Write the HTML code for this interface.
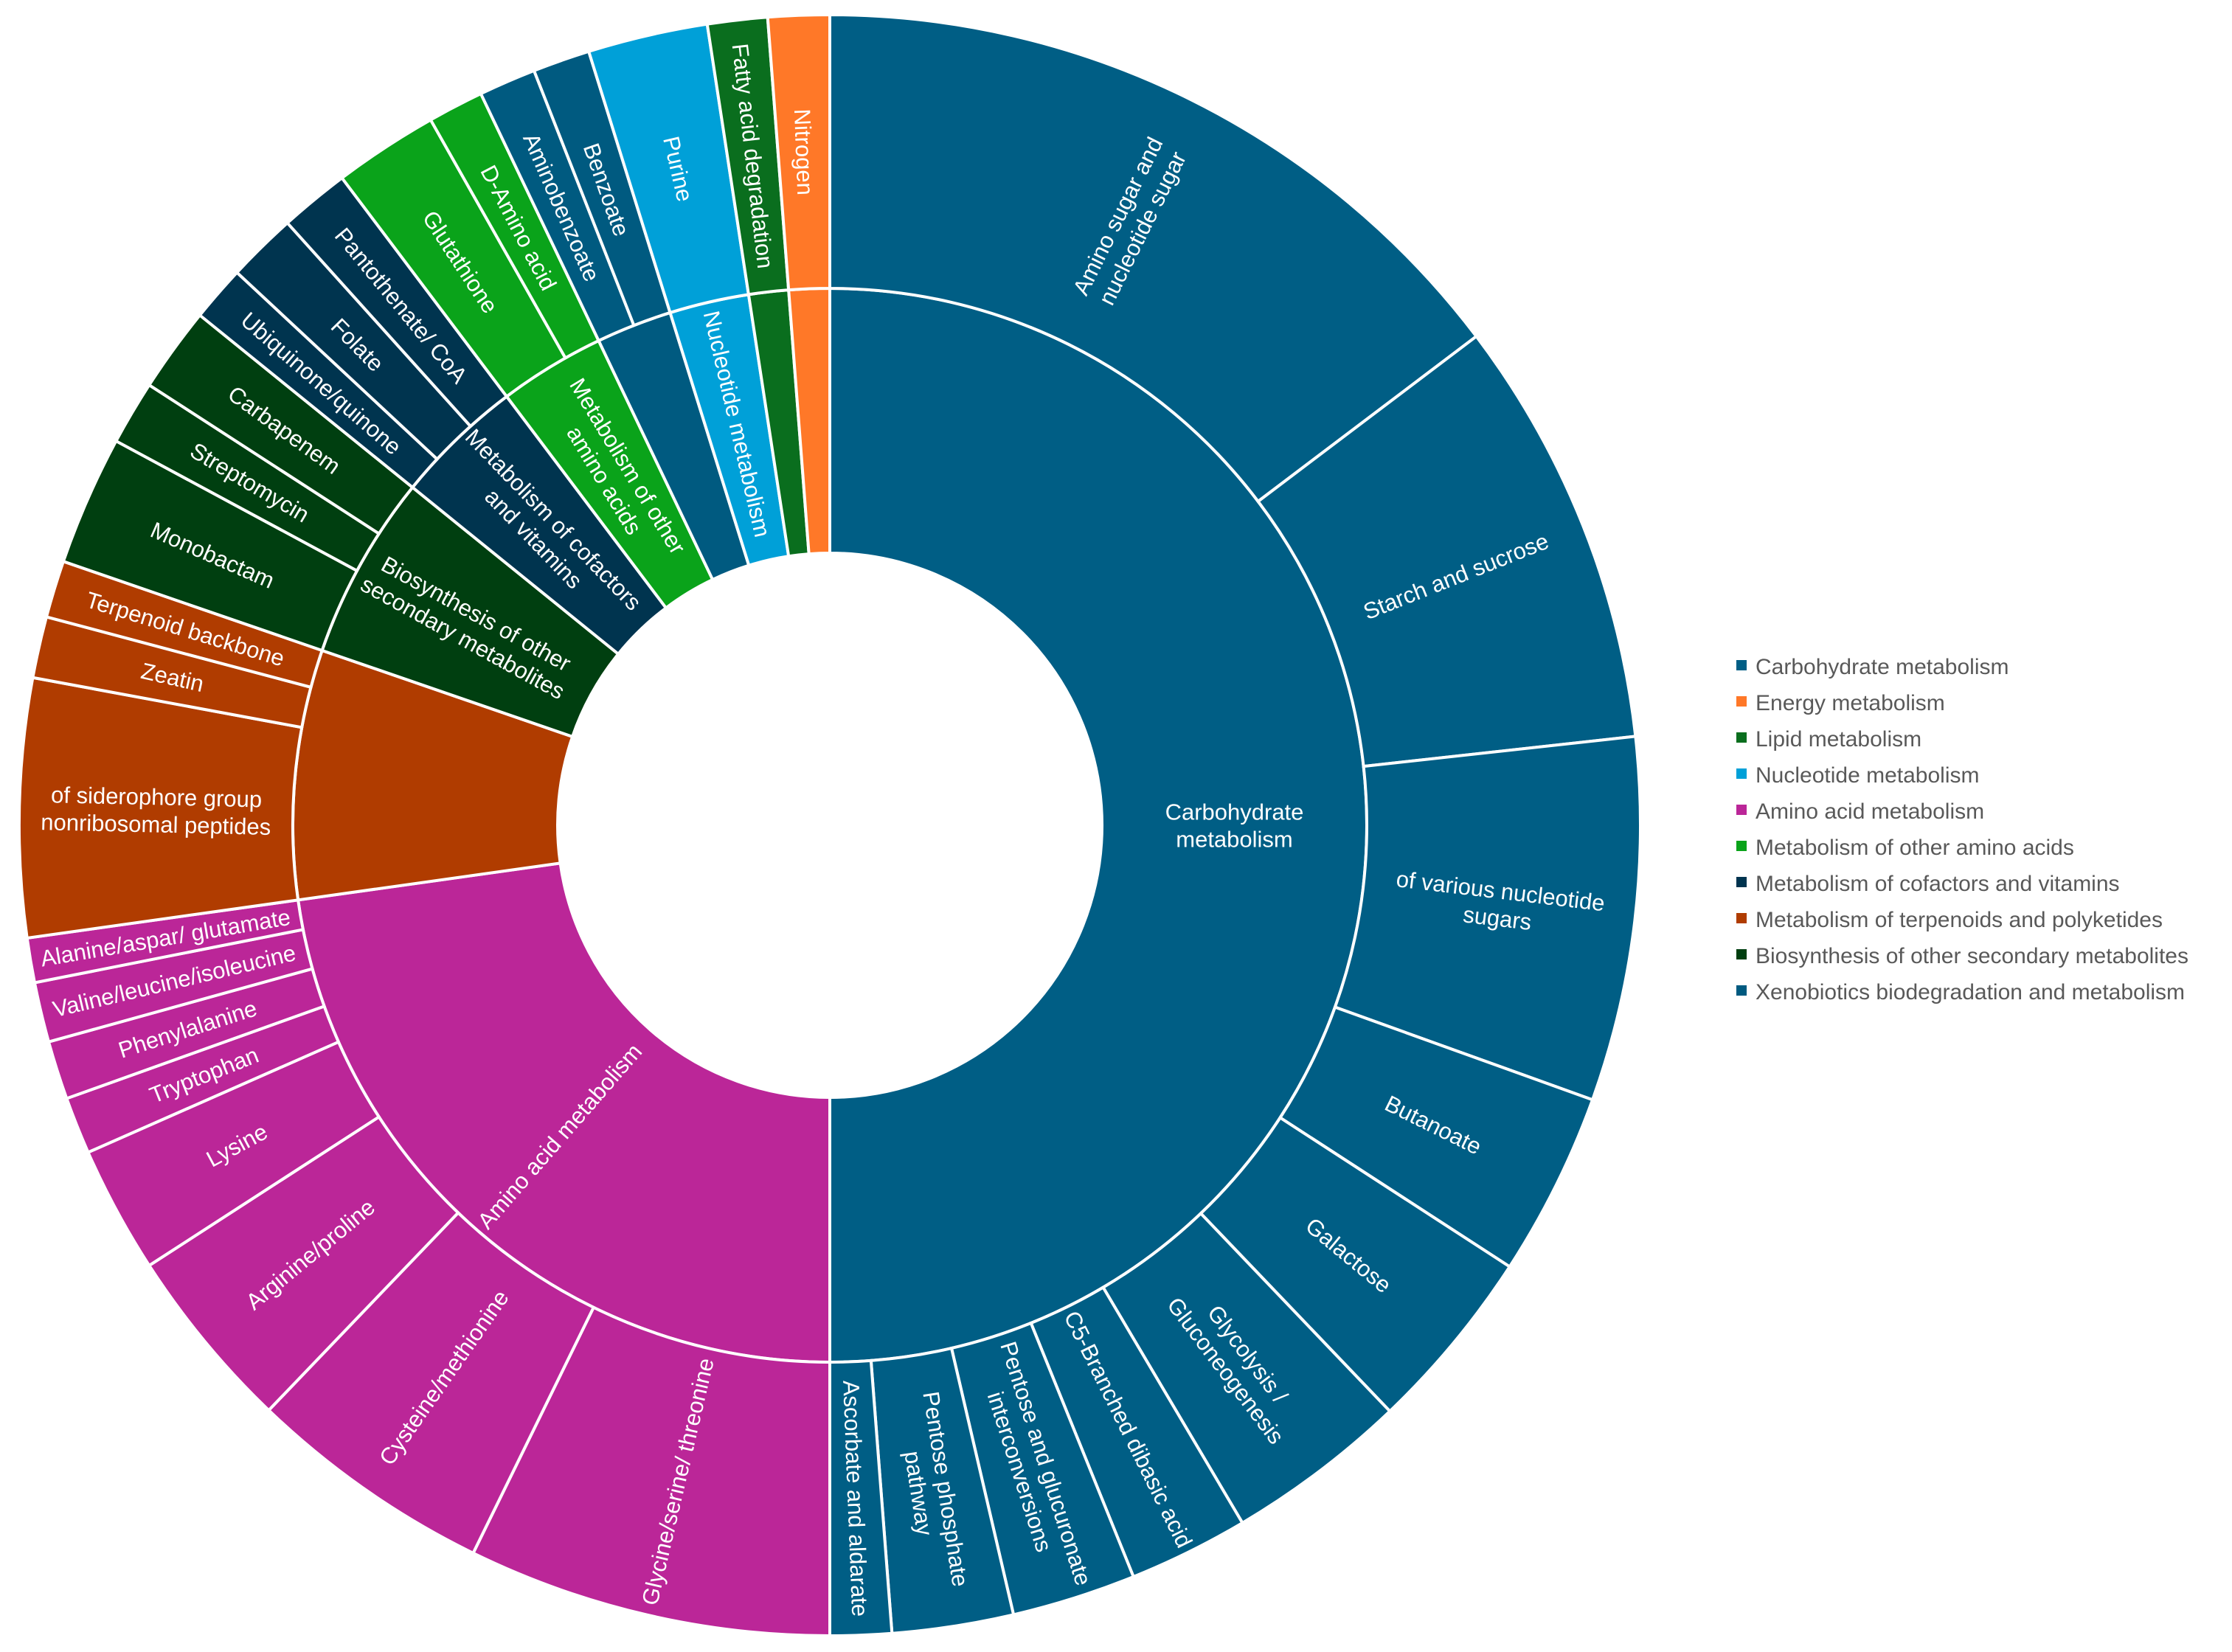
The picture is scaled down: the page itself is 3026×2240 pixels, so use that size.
<!DOCTYPE html>
<html><head><meta charset="utf-8"><style>
body{margin:0;background:#fff}
svg{display:block}
text{font-family:"Liberation Sans",sans-serif}
</style></head><body>
<svg id="chart" width="3026" height="2240" viewBox="0 0 3026 2240" xmlns="http://www.w3.org/2000/svg">
<g id="rings"></g>
<g id="labels"></g>
<g id="legend"></g>
</svg>
<script>
const groupNames=["Carbohydrate metabolism","Amino acid metabolism","Metabolism of terpenoids and polyketides","Biosynthesis of other secondary metabolites","Metabolism of cofactors and vitamins","Metabolism of other amino acids","Xenobiotics biodegradation and metabolism","Nucleotide metabolism","Lipid metabolism","Energy metabolism"];
const groupLabels=[["Carbohydrate","metabolism"],["Amino acid metabolism"],[],["Biosynthesis of other","secondary metabolites"],["Metabolism of cofactors","and vitamins"],["Metabolism of other","amino acids"],[],["Nucleotide metabolism"],[],[]];
const groupColors=["#005e85","#bb2698","#b03c00","#003f10","#00344f","#0aa31a","#005a80","#00a0d8","#0a6e1e","#ff7828"];
const childGroup=[0,0,0,0,0,0,0,0,0,0, 1,1,1,1,1,1,1,1, 2,2,2, 3,3,3, 4,4,4, 5,5, 6,6, 7, 8, 9];
const childNames=[["Amino sugar and","nucleotide sugar"],["Starch and sucrose"],["of various nucleotide","sugars"],["Butanoate"],["Galactose"],["Glycolysis /","Gluconeogenesis"],["C5-Branched dibasic acid"],["Pentose and glucuronate","interconversions"],["Pentose phosphate","pathway"],["Ascorbate and aldarate"],
["Glycine/serine/ threonine"],["Cysteine/methionine"],["Arginine/proline"],["Lysine"],["Tryptophan"],["Phenylalanine"],["Valine/leucine/isoleucine"],["Alanine/aspar/ glutamate"],
["of siderophore group","nonribosomal peptides"],["Zeatin"],["Terpenoid backbone"],
["Monobactam"],["Streptomycin"],["Carbapenem"],
["Ubiquinone/quinone"],["Folate"],["Pantothenate/ CoA"],
["Glutathione"],["D-Amino acid"],
["Aminobenzoate"],["Benzoate"],
["Purine"],["Fatty acid degradation"],["Nitrogen"]];
const childValues=[52.9,30.8,26.1,13.2,13.3,13.1,8.6,8.9,8.7,4.4, 26.1,17.7,13.3,9.1,4.1,4.2,4.3,3.2, 18.5,4.4,4.1, 9.3,4.6,6.1, 4,5,5, 7.5,4, 4.1,4.1, 8.6,4.3,4.4];
const legendOrder=[0,9,8,7,1,5,4,2,3,6];

const cx=1125,cy=1119,r0=369,r1=728,r2=1099;
const NS="http://www.w3.org/2000/svg";
const total=childValues.reduce((a,b)=>a+b,0);
const groupValues=groupNames.map((_,g)=>childValues.reduce((s,v,i)=>s+(childGroup[i]===g?v:0),0));
function ang(v){return v/total*2*Math.PI;}
function pt(a,r){return [cx+r*Math.sin(a),cy-r*Math.cos(a)];}
function arc(a0,a1,ri,ro){
  const [x0,y0]=pt(a0,ro),[x1,y1]=pt(a1,ro),[x2,y2]=pt(a1,ri),[x3,y3]=pt(a0,ri);
  const lg=(a1-a0)>Math.PI?1:0;
  return `M${x0},${y0}A${ro},${ro} 0 ${lg} 1 ${x1},${y1}L${x2},${y2}A${ri},${ri} 0 ${lg} 0 ${x3},${y3}Z`;
}
const rings=document.getElementById('rings'),labels=document.getElementById('labels');
function addLabel(lines,a,r,size,name){
  if(!lines.length)return;
  const deg=a*180/Math.PI;
  const rot=deg<180?deg-90:deg-270;
  const [x,y]=pt(a,r);
  const t=document.createElementNS(NS,'text');
  
  
  t.setAttribute('transform',`translate(${x},${y}) rotate(${rot})`);
  t.setAttribute('text-anchor','middle');
  t.setAttribute('fill','#fff');
  t.setAttribute('font-size',size);
  const lh=size*1.2;
  lines.forEach((l,i)=>{
    const s=document.createElementNS(NS,'tspan');
    s.setAttribute('x',0);
    s.setAttribute('y',(i-(lines.length-1)/2)*lh+size*0.35);
    s.textContent=l;t.appendChild(s);
  });
  labels.appendChild(t);
}
let acc=0;
groupValues.forEach((v,g)=>{
  const a0=ang(acc),a1=ang(acc+v);
  const p=document.createElementNS(NS,'path');
  
  
  p.setAttribute('d',arc(a0,a1,r0,r1));
  p.setAttribute('fill',groupColors[g]);p.setAttribute('stroke','#fff');p.setAttribute('stroke-width',4);
  rings.appendChild(p);
  addLabel(groupLabels[g],(a0+a1)/2,(r0+r1)/2+(g===0?0:10),31,'inner-label-'+g);
  acc+=v;
});
acc=0;
childValues.forEach((v,i)=>{
  const a0=ang(acc),a1=ang(acc+v);
  const p=document.createElementNS(NS,'path');
  
  
  p.setAttribute('d',arc(a0,a1,r1,r2));
  p.setAttribute('fill',groupColors[childGroup[i]]);p.setAttribute('stroke','#fff');p.setAttribute('stroke-width',4);
  rings.appendChild(p);
  addLabel(childNames[i],(a0+a1)/2,(r1+r2)/2,31,'outer-label-'+i);
  acc+=v;
});
const lg=document.getElementById('legend');
legendOrder.forEach((g,k)=>{
  const y=903+k*49;
  const r=document.createElementNS(NS,'rect');
  
  
  r.setAttribute('x',2354);r.setAttribute('y',y-8);r.setAttribute('width',14);r.setAttribute('height',14);
  r.setAttribute('fill',groupColors[g]);lg.appendChild(r);
  const t=document.createElementNS(NS,'text');
  
  
  t.setAttribute('x',2380);t.setAttribute('y',y+11);t.setAttribute('font-size',30);t.setAttribute('fill','#595959');
  t.textContent=groupNames[g];lg.appendChild(t);
});
</script>
</body></html>
